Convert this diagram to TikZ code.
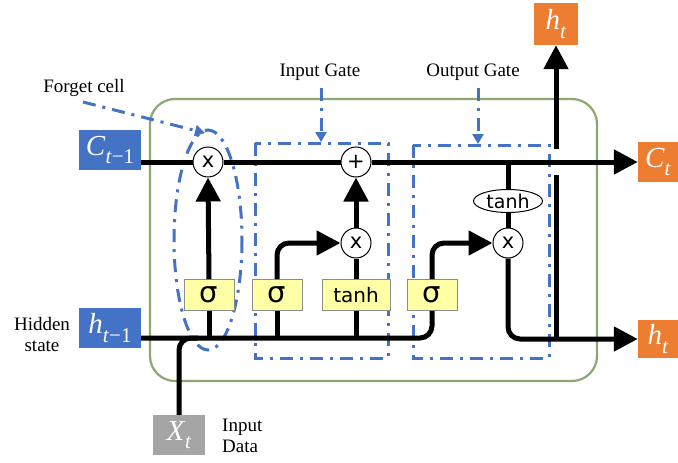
\documentclass[tikz,border=0pt]{standalone}
\usepackage{fontspec}
\setmainfont{Liberation Serif}
\newfontfamily\dvs{DejaVu Sans}
\usetikzlibrary{arrows.meta,shapes.geometric,calc}
\definecolor{cblue}{HTML}{4472C4}
\definecolor{corange}{HTML}{ED7D31}
\definecolor{cgray}{HTML}{A5A5A5}
\definecolor{cgreen}{HTML}{8CA872}
\definecolor{ylw}{HTML}{FFFFA6}
\newcommand{\mylab}[3]{\textit{#1}\raisebox{-0.3em}{\fontsize{21}{21}\selectfont\textit{#2}#3}}
\tikzset{
  flow/.style={line width=5pt, black},
  bigtip/.style={-{Triangle[width=24pt,length=24pt]}},
  gatebox/.style={draw=gray!90, fill=ylw, line width=0.8pt, minimum width=50pt, minimum height=31pt, inner sep=0pt, font=\dvs\fontsize{29}{29}\selectfont},
  opnode/.style={circle, draw, fill=white, line width=1pt, minimum size=30pt, inner sep=0pt, font=\dvs\fontsize{21}{21}\selectfont},
  iobox/.style={minimum width=62pt, minimum height=40pt, inner sep=0pt, text=white, font=\fontsize{29}{29}\selectfont},
  dd/.style={draw=cblue, line width=3pt, dash pattern=on 13pt off 7pt on 3pt off 7pt},
  lbl/.style={font=\fontsize{19}{22}\selectfont, inner sep=0pt}
}
\begin{document}
\begin{tikzpicture}[x=1pt,y=-1pt]
\useasboundingbox (0,0) rectangle (678,463);
% cell body
\draw[cgreen, line width=2.2pt, rounded corners=25pt] (150,99) rectangle (597,381);
% gate regions
\draw[dd] (255,143) rectangle (388,358);
\draw[dd] (413,145) rectangle (549,358);
\draw[dd] (208,240) ellipse [x radius=34, y radius=110];

% io boxes
\node[iobox, fill=cblue] (c0) at (110,150) {\mylab{C}{t}{−1}};
\node[iobox, fill=cblue] (h0) at (110,328) {\mylab{h}{t}{−1}};
\node[iobox, fill=cgray, minimum width=52pt] (xt) at (179,435) {\mylab{X}{t}{}};
\node[iobox, fill=corange, minimum width=40pt] (ct) at (658,162) {\mylab{C}{t}{}};
\node[iobox, fill=corange, minimum width=40pt, minimum height=38pt] (hr) at (658,339) {\mylab{h}{t}{}};
\node[iobox, fill=corange, minimum width=44pt, minimum height=42pt] (ht) at (556,24) {\mylab{h}{t}{}};

% operators
\node[opnode] (fx) at (208,162) {x};
\node[opnode] (plus) at (356,162) {+};
\node[opnode] (ix) at (356,243) {x};
\node[opnode] (ox) at (508,243) {x};
\node[ellipse, draw, fill=white, line width=1pt, minimum width=69pt, minimum height=23pt, inner sep=0pt, font=\dvs\fontsize{19}{19}\selectfont] (te) at (508,201) {tanh};

% gates
\node[gatebox] (sf) at (209,295) {σ};
\node[gatebox] (si) at (277,295) {σ};
\node[gatebox, minimum width=68pt, font=\dvs\fontsize{20}{20}\selectfont] (tn) at (356,295) {tanh};
\node[gatebox] (so) at (432,295) {σ};

\coordinate (b) at (0,338);
\coordinate (g1) at (556,175);
\coordinate (g2) at (556,149);
\coordinate (xj) at (198,338);

% cell state line
\draw[flow] (c0.east|-fx.west) -- (fx.west);
\draw[flow] (fx.east) -- (plus.west);
\draw[flow, bigtip] (plus.east) -- (ct.west);

% hidden line
\draw[flow, rounded corners=12pt] (h0.east|-b) -| (so.south);
\draw[flow, rounded corners=12pt] (xt.north) |- (xj);

% forget gate
\draw[flow] (sf.south) -- (sf.south|-b);
\draw[flow, bigtip] (sf.north) -- (fx.south);

% input gate
\draw[flow] (si.south) -- (si.south|-b);
\draw[flow, bigtip, rounded corners=12pt] (si.north) |- (ix.west);
\draw[flow] (tn.south) -- (tn.south|-b);
\draw[flow] (tn.north) -- (ix.south);
\draw[flow, bigtip] (ix.north) -- (plus.south);

% output gate
\draw[flow, bigtip, rounded corners=12pt] (so.north) |- (ox.west);
\draw[flow] (te.north) -- (te.north|-fx);
\draw[flow] (te.south) -- (ox.north);
\draw[flow, bigtip, rounded corners=12pt] (ox.south) |- (hr.west);
\draw[flow] (ht.south|-hr.west) -- (g1);
\draw[flow, bigtip] (g2) -- (ht.south);

% annotations
\node[lbl] (fl) at (84,88) {Forget cell};
\coordinate (fa) at (83,102);
\coordinate (fb) at (205,133);
\draw[dd, -{Triangle[width=11pt,length=10pt]}] (fa) -- (fb);
\node[lbl] (ig) at (320,72) {Input Gate};
\node[lbl] (og) at (473,72) {Output Gate};
\coordinate (ia) at (321,88);
\coordinate (oa) at (478,88);
\draw[dd, -{Triangle[width=11pt,length=10pt]}] (ia) -- (321,142);
\draw[dd, -{Triangle[width=11pt,length=10pt]}] (oa) -- (478,144);
\node[lbl, align=center] (hs) at (42,334) {Hidden\\[-1pt]state};
\node[lbl, align=left, anchor=west] (id) at (222,436) {Input\\[-1pt]Data};
\end{tikzpicture}
\end{document}
